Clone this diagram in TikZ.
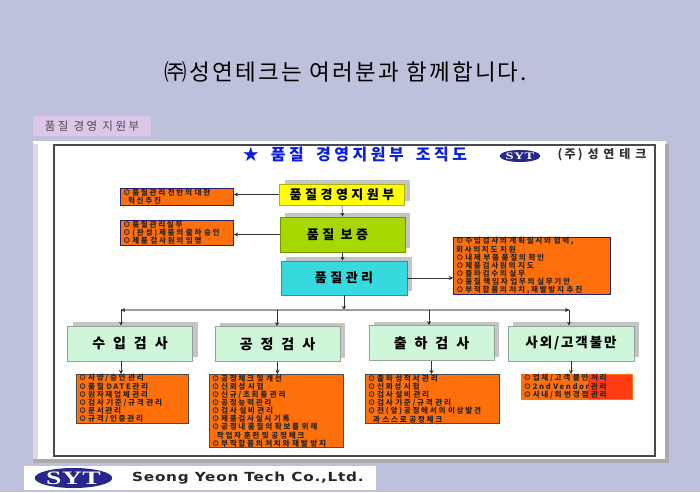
\documentclass[tikz,border=0pt]{standalone}
\usepackage{fontspec}
\setmainfont{Noto Sans CJK KR}
\newfontfamily\logofont[FakeStretch=1.45,LetterSpace=3]{Liberation Serif}
\newfontfamily\firmfont[FakeStretch=1.22,LetterSpace=6]{DejaVu Sans}
\newcommand{\spaced}[1]{\addfontfeature{LetterSpace=#1}}
\newcommand{\tightlines}{\lineskiplimit=-20pt\relax}
\usetikzlibrary{shadows,arrows.meta,shapes.geometric}
\definecolor{pagebg}{HTML}{BEC1DB}
\definecolor{lilac}{HTML}{DCC7E8}
\definecolor{stripgray}{HTML}{D9DAE6}
\definecolor{edgegray}{HTML}{A9A9AE}
\definecolor{framegray}{HTML}{4A4A4E}
\definecolor{shadegray}{HTML}{C4C4C4}
\definecolor{sunorange}{HTML}{FF6F0A}
\definecolor{hotorange}{HTML}{FF3C10}
\definecolor{deepnavy}{HTML}{22227E}
\definecolor{headyellow}{HTML}{FFFF00}
\definecolor{leafgreen}{HTML}{A6D800}
\definecolor{seacyan}{HTML}{36D9DD}
\definecolor{palegreen}{HTML}{CFF6D8}
\definecolor{titleblue}{HTML}{0A1FE0}
\definecolor{logonavy}{HTML}{26268C}
\tikzset{
  headbox/.style={draw=#1!70!black,fill=#1,line width=.7pt,text=black,font=\fontsize{13}{13}\selectfont\bfseries\spaced{27},
    drop shadow={shadow xshift=5pt,shadow yshift=4pt,opacity=1,fill=shadegray},inner sep=0pt},
  deptbox/.style={headbox=palegreen,draw=gray!70!palegreen,minimum width=125pt,minimum height=35pt,
    font=\fontsize{14}{14}\selectfont\bfseries\spaced{34}},
  tasklist/.style={draw=#1,fill=sunorange,line width=1pt,anchor=north west,align=left,inner xsep=2.5pt,inner ysep=0pt,
    text=black!85,font=\fontsize{7.6}{8.15}\selectfont\bfseries\spaced{22},execute at begin node=\tightlines},
  arr/.style={-{Stealth[length=4pt,width=4pt]},line width=.6pt,black!80},
  logo/.style={ellipse,fill=logonavy,text=white,inner sep=0pt,font=\logofont\bfseries}
}
\begin{document}
\begin{tikzpicture}[x=1pt,y=-1pt]
  \useasboundingbox[fill=pagebg] (0,0) rectangle (700,492);
  \node[font=\fontsize{22.5}{22}\selectfont\spaced{10}] (title) at (346,72) {㈜성연테크는 여러분과 함께합니다.};
  \node[fill=lilac,minimum width=118pt,minimum height=20pt,inner sep=0pt,text=black!70,font=\fontsize{11.5}{12}\selectfont\spaced{22}] (tag) at (92,126) {품질 경영 지원부};

  \fill[white] (33,141) rectangle (666,462);
  \fill[stripgray] (33,144) rectangle (38,459);
  \fill[edgegray] (665,144) rectangle (669,462);
  \fill[edgegray] (33,459) rectangle (669,463);
  \draw[framegray,line width=1.5pt,fill=white] (54,145) rectangle (655,456);

  \node[text=titleblue,font=\fontsize{16}{16}\selectfont\bfseries\spaced{22}] (charttitle) at (355,155) {★\kern5pt{} 품질\kern5pt{} 경영지원부\kern5pt{} 조직도};
  \node[logo,minimum width=36pt,minimum height=12pt,font=\logofont\bfseries\fontsize{10}{10}\selectfont] (toplogo) at (520,156) {SYT};
  \node[text=black!80,font=\fontsize{12}{12}\selectfont\bfseries\spaced{18}] (firm) at (602,155) {(주) 성 연 테 크};

  \node[headbox=headyellow,minimum width=125pt,minimum height=21pt] (support) at (342,194.5) {품질경영지원부};
  \node[headbox=leafgreen,minimum width=125pt,minimum height=35pt] (assure) at (342.5,234.5) {\kern-10pt 품질 보증};
  \node[headbox=seacyan,minimum width=126pt,minimum height=34pt] (control) at (344,278) {품질관리};

  \node[tasklist=deepnavy,text width=108pt,minimum height=17pt] (supportlist) at (120,188) {⊙품질관리 전반의 대한\\\ \ 혁신추진};
  \node[tasklist=deepnavy,text width=108pt,minimum height=25pt] (assurelist) at (120,220) {⊙품질관리실무\\⊙(완성)제품의 출하 승인\\⊙제품 검사원의 임명};
  \node[tasklist=deepnavy,text width=152pt,minimum height=57pt] (controllist) at (453,237) {⊙수입검사의 계획실시와 협력,\\회사의지도 지원\\⊙내제 부품 품질의 확인\\⊙제품검사원의 지도\\⊙출하검수의 실무\\⊙품질 책임자 업무의 실무기안\\⊙부적합품의 처치,재발방지 추진};

  \node[deptbox] (incoming) at (130,343.5) {수 입 검 사};
  \node[deptbox] (process) at (277.5,344) {공 정 검 사};
  \node[deptbox] (outgoing) at (431.5,343) {출 하 검 사};
  \node[deptbox,minimum width=126pt,font=\fontsize{13.5}{14}\selectfont\bfseries\spaced{14}] (claim) at (571,343.5) {사외/고객불만};

  \node[tasklist=framegray,line width=.7pt,text width=107pt,minimum height=49pt] (incominglist) at (76,374) {⊙사양/승인 관리\\⊙품질 DATE관리\\⊙원자재업체 관리\\⊙검사 기준/규격 관리\\⊙문서관리\\⊙규격/인증관리};
  \node[tasklist=framegray,line width=.7pt,text width=129pt,minimum height=73pt] (processlist) at (209,374) {⊙공정체크 및 개선\\⊙신뢰성 시험\\⊙신규/초회품 관리\\⊙공정능력관리\\⊙검사 설비 관리\\⊙제품검사실시 기록\\⊙공정내 품질의 확보를 위해\\\ \ 작업자 훈련 및 공정체크\\⊙부적합품의 처치와 재발 방지};
  \node[tasklist=framegray,line width=.7pt,text width=129pt,minimum height=49pt] (outgoinglist) at (365,374) {⊙출하 성적서 관리\\⊙신뢰성 시험\\⊙검사 설비 관리\\⊙검사 기준/규격 관리\\⊙전(앞)공정에서의 이상발견\\\ \ 과 스스로 공정체크};
  \node[tasklist=sunorange,line width=0pt,text width=106pt,minimum height=25pt,
    path picture={\fill[hotorange] ([xshift=-44pt]path picture bounding box.north east) rectangle (path picture bounding box.south east);}]
    (claimlist) at (521,374) {⊙업체/고객 불만 처리\\⊙2nd Vendor관리\\⊙사내/외 변경점 관리};

  \coordinate (busleft) at (121,310);
  \coordinate (busright) at (569,310);
  \coordinate (busmid) at (control.south |- busleft);
  \coordinate (busprocess) at (277,310);
  \coordinate (busoutgoing) at (429,310);

  \draw[arr] (support.south) -- (assure.north);
  \draw[arr] (assure.south) -- (assure.south |- control.north);
  \draw[arr] (control.south) -- (busmid);
  \draw[arr] (support.west) -- (support.west -| supportlist.east);
  \draw[arr] (assure.west) -- (assure.west -| assurelist.east);
  \draw[arr] (control.east) -- (control.east -| controllist.west);
  \draw[shadegray!80!black,line width=1.2pt] (busleft) -- (busright);
  \draw[arr] ([xshift=4pt]busleft) -- (busleft);
  \draw[arr] ([xshift=-4pt]busright) -- (busright);
  \draw[arr] (busleft) -- (busleft |- incoming.north);
  \draw[arr] (busprocess) -- (busprocess |- process.north);
  \draw[arr] (busoutgoing) -- (busoutgoing |- outgoing.north);
  \draw[arr] (busright) -- (busright |- claim.north);
  \draw[arr] (busleft |- incoming.south) -- (busleft |- incominglist.north);
  \draw[arr] (process.south) -- (process.south |- processlist.north);
  \draw[arr] (outgoing.south) -- (outgoing.south |- outgoinglist.north);
  \draw[arr] (claim.south) -- (claim.south |- claimlist.north);

  \node[fill=white,minimum width=352pt,minimum height=24pt,inner sep=0pt] (footer) at (200,478) {};
  \node[logo,minimum width=77pt,minimum height=20pt,font=\logofont\bfseries\fontsize{19}{19}\selectfont] (footlogo) at (73.5,478) {SYT};
  \node[anchor=west,inner sep=0pt,text=black!85,font=\firmfont\bfseries\fontsize{12.5}{13}\selectfont] (footname) at (132,478) {Seong Yeon Tech Co.,Ltd.};
\end{tikzpicture}
\end{document}
